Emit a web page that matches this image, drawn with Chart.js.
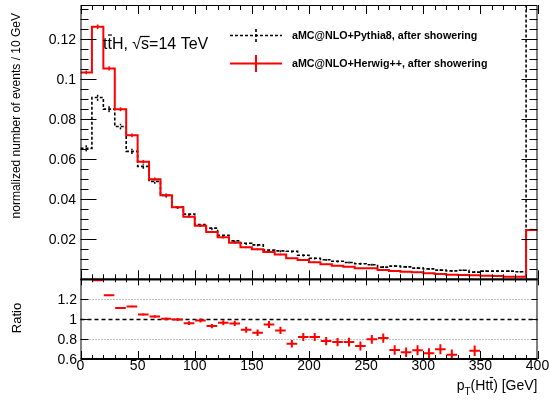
<!DOCTYPE html>
<html>
<head>
<meta charset="utf-8">
<script src="https://cdn.jsdelivr.net/npm/chart.js@4/dist/chart.umd.min.js"></script>
<style>
html,body{margin:0;padding:0;background:#fff;}
#wrap{position:relative;width:550px;height:403px;background:#fff;}
canvas{position:absolute;left:0;top:0;}
</style>
</head>
<body>
<div id="wrap">
<canvas id="cTop" width="550" height="403"></canvas>
<canvas id="cBot" width="550" height="403"></canvas>
</div>
<script>
// ---------------- data ----------------
const binLow = [0,10,20,30,40,50,60,70,80,90,100,110,120,130,140,150,160,170,180,190,
                200,210,220,230,240,250,260,270,280,290,300,310,320,330,340,350,360,370,380,390];
const binWidth = 10;
const herwig = [0.1035,0.1263,0.1055,0.0850,0.0720,0.0588,0.0501,0.0421,0.0360,0.0313,
                0.0268,0.0237,0.0210,0.0183,0.0160,0.0150,0.0137,0.0124,0.0105,0.0097,
                0.0085,0.0075,0.0068,0.0063,0.0055,0.0055,0.0047,0.0042,0.0038,0.0035,
                0.0030,0.0027,0.0023,0.0022,0.0020,0.0018,0.0017,0.0013,0.0013,0.0247];
const pythia = [0.0655,0.0909,0.0851,0.0764,0.0640,0.0565,0.0490,0.0420,0.0362,0.0326,
                0.0274,0.0256,0.0220,0.0192,0.0180,0.0172,0.0146,0.0142,0.0140,0.0120,
                0.0105,0.0098,0.0090,0.0084,0.0078,0.0073,0.0061,0.0066,0.0062,0.0056,
                0.0052,0.0046,0.0042,0.0045,0.0036,0.0041,0.0041,0.0041,0.0038,0.1600];
const herwigErr = [0.0010,0.0012,0.0011,0.0010,0.0009,0.0009,0.0008,0.0008,0.0007,0.0007,
                   0.0006,0.0006,0.0006,0.0005,0.0005,0.0005,0.0005,0.0004,0.0004,0.0004,
                   0.0004,0.0004,0.0003,0.0003,0.0003,0.0003,0.0003,0.0003,0.0003,0.0003,
                   0.0003,0.0002,0.0002,0.0002,0.0002,0.0002,0.0002,0.0002,0.0002,0.0006];
const pythiaErr = [0.0015,0.0016,0.0015,0.0014,0.0013,0.0012,0.0012,0.0011,0.0010,0.0010,
                   0.0009,0.0009,0.0008,0.0008,0.0008,0.0007,0.0007,0.0007,0.0007,0.0006,
                   0.0006,0.0006,0.0006,0.0005,0.0005,0.0005,0.0005,0.0005,0.0005,0.0005,
                   0.0005,0.0004,0.0004,0.0004,0.0004,0.0004,0.0004,0.0004,0.0004,0.0015];
const ratio = [null,1.39,1.24,1.113,1.127,1.047,1.027,1.003,0.997,0.96,
               0.987,0.93,0.963,0.957,0.893,0.863,0.947,0.887,0.753,0.82,
               0.82,0.78,0.77,0.77,0.73,0.797,0.81,0.69,0.667,0.687,
               0.657,0.697,0.643,null,0.683,null,null,null,null,null];
const ratioErr = [0,0.004,0.005,0.006,0.008,0.010,0.012,0.013,0.015,0.018,
                  0.020,0.022,0.025,0.027,0.030,0.032,0.035,0.037,0.038,0.040,
                  0.040,0.042,0.042,0.044,0.045,0.045,0.046,0.048,0.048,0.050,
                  0.050,0.050,0.052,0.052,0.052,0.055,0.055,0.055,0.055,0.010];

const xTickValues = [0,50,100,150,200,250,300,350,400];
const xTickLabels = ['0','50','100','150','200','250','300','350','400'];
const yMainTickValues = [0.02,0.04,0.06,0.08,0.1,0.12];
const yMainTickLabels = ['0.02','0.04','0.06','0.08','0.1','0.12'];
const yRatioTickValues = [0.6,0.8,1,1.2];
const yRatioTickLabels = ['0.6','0.8','1','1.2'];

const seriesNames = ['aMC@NLO+Pythia8, after showering','aMC@NLO+Herwig++, after showering'];
const yTitleMain = 'normalized number of events / 10 GeV';
const yTitleRatio = 'Ratio';

// ---------------- helpers ----------------
const FONT = '"Liberation Sans", Arial, Helvetica, sans-serif';
function stepPoints(vals){
  const pts = binLow.map((lo,i)=>({x:lo, y:vals[i]}));
  pts.push({x: binLow[binLow.length-1] + binWidth, y: vals[vals.length-1]});
  return pts;
}
function hline(ctx,x1,x2,y){ctx.beginPath();ctx.moveTo(x1,y);ctx.lineTo(x2,y);ctx.stroke();}
function vline(ctx,x,y1,y2){ctx.beginPath();ctx.moveTo(x,y1);ctx.lineTo(x,y2);ctx.stroke();}

// ---------------- top panel ----------------
const topPlugin = {
  id:'topDeco',
  afterDatasetsDraw(chart){
    const ctx = chart.ctx, xs = chart.scales.x, ys = chart.scales.y, a = chart.chartArea;
    ctx.save();
    ctx.beginPath(); ctx.rect(a.left,a.top,a.right-a.left,a.bottom-a.top); ctx.clip();
    // pythia error bars (dashed)
    ctx.strokeStyle='#000'; ctx.lineWidth=1.5; ctx.setLineDash([2,2]);
    binLow.forEach((lo,i)=>{
      const cx = xs.getPixelForValue(lo+binWidth/2);
      vline(ctx,cx,ys.getPixelForValue(pythia[i]-pythiaErr[i]),ys.getPixelForValue(pythia[i]+pythiaErr[i]));
    });
    ctx.setLineDash([]);
    ctx.strokeStyle='#ff0000'; ctx.lineWidth=1.5;
    binLow.forEach((lo,i)=>{
      const cx = xs.getPixelForValue(lo+binWidth/2);
      vline(ctx,cx,ys.getPixelForValue(herwig[i]-herwigErr[i]),ys.getPixelForValue(herwig[i]+herwigErr[i]));
    });
    ctx.restore();
  },
  afterDraw(chart){
    const ctx = chart.ctx, xs = chart.scales.x, ys = chart.scales.y, a = chart.chartArea;
    ctx.save();
    ctx.strokeStyle='#000'; ctx.fillStyle='#000'; ctx.lineWidth=1;
    // frame
    ctx.strokeRect(a.left+0.5,a.top+0.5,a.right-a.left-1,a.bottom-a.top);
    // y ticks
    for(let k=0;k<=27;k++){
      const v=k*0.005; const py=Math.round(ys.getPixelForValue(v))+0.5;
      if(py<a.top+1) continue;
      const major = (k%4===0);
      hline(ctx,a.left,a.left+(major?16:8),py);
      hline(ctx,a.right,a.right-(major?16:8),py);
    }
    // x ticks (bottom and top)
    for(let v=0;v<=400;v+=10){
      const px=Math.round(xs.getPixelForValue(v))+0.5;
      const major=(v%50===0);
      vline(ctx,px,a.bottom,a.bottom-(major?9:5));
      vline(ctx,px,a.top,a.top+(major?9:5));
    }
    // tick labels
    ctx.font='14px '+FONT; ctx.textAlign='right'; ctx.textBaseline='middle';
    yMainTickValues.forEach((v,i)=>ctx.fillText(yMainTickLabels[i],76,ys.getPixelForValue(v)+1));
    // y title
    ctx.save(); ctx.translate(17,13); ctx.rotate(-Math.PI/2);
    ctx.font='12px '+FONT; ctx.textAlign='right'; ctx.textBaseline='middle';
    ctx.fillText(yTitleMain,0,0); ctx.restore();
    // process label: t tbar H, sqrt(s)=14 TeV
    ctx.font='16px '+FONT; ctx.textAlign='left'; ctx.textBaseline='alphabetic';
    let x=103; const base=49;
    const wt=ctx.measureText('t').width;
    ctx.fillText('t',x,base); x+=wt;
    ctx.fillText('t',x,base);
    ctx.lineWidth=1.2; hline(ctx,x+0.5,x+wt,base-14); x+=wt;
    ctx.fillText('H, ',x,base); x+=ctx.measureText('H, ').width;
    ctx.fillText('\u221A',x,base);
    const mr=ctx.measureText('\u221A'); const rootTop=base-mr.actualBoundingBoxAscent+0.5;
    x+=mr.width;
    const ws=ctx.measureText('s').width;
    ctx.fillText('s',x,base);
    hline(ctx,x-1,x+ws+0.5,rootTop); x+=ws;
    ctx.fillText('=14 TeV',x,base);
    // legend
    ctx.lineWidth=1.6; ctx.strokeStyle='#000'; ctx.setLineDash([3,2]);
    hline(ctx,230,282,35.5); vline(ctx,256,29,43);
    ctx.setLineDash([]);
    ctx.strokeStyle='#ff0000'; ctx.lineWidth=2;
    hline(ctx,230,282,63.5); vline(ctx,256,55,72);
    ctx.fillStyle='#000'; ctx.font='bold 10.7px '+FONT; ctx.textBaseline='middle';
    ctx.fillText(seriesNames[0],292,36);
    ctx.fillText(seriesNames[1],292,64);
    ctx.restore();
  }
};

new Chart(document.getElementById('cTop'),{
  type:'line',
  data:{datasets:[
    {label:seriesNames[1], data:stepPoints(herwig), stepped:'before', borderColor:'#ff0000',
     borderWidth:2, pointRadius:0, fill:false, order:0},
    {label:seriesNames[0], data:stepPoints(pythia), stepped:'before', borderColor:'#000000',
     borderWidth:1.6, borderDash:[3,2], pointRadius:0, fill:false, order:1}
  ]},
  options:{
    responsive:false, animation:false, events:[], devicePixelRatio:1,
    layout:{padding:{left:80.5,right:12.5,top:5,bottom:123.7}},
    plugins:{legend:{display:false},tooltip:{enabled:false}},
    scales:{
      x:{type:'linear',min:0,max:400,display:false},
      y:{type:'linear',min:0,max:0.1372,display:false}
    }
  },
  plugins:[topPlugin]
});

// ---------------- ratio panel ----------------
const botPlugin = {
  id:'botDeco',
  beforeDatasetsDraw(chart){
    const ctx=chart.ctx, xs=chart.scales.x, ys=chart.scales.y, a=chart.chartArea;
    ctx.save();
    ctx.strokeStyle='#888'; ctx.lineWidth=1; ctx.setLineDash([1,2]);
    [0.8,1.2].forEach(v=>hline(ctx,a.left,a.right,Math.round(ys.getPixelForValue(v))+0.5));
    ctx.strokeStyle='#000'; ctx.lineWidth=1.5; ctx.setLineDash([4,3]);
    hline(ctx,a.left,a.right,Math.round(ys.getPixelForValue(1))+0.5);
    ctx.restore();
  },
  afterDatasetsDraw(chart){
    const ctx=chart.ctx, xs=chart.scales.x, ys=chart.scales.y, a=chart.chartArea;
    ctx.save();
    ctx.beginPath(); ctx.rect(a.left,a.top,a.right-a.left,a.bottom-a.top); ctx.clip();
    ctx.strokeStyle='#ff0000'; ctx.lineWidth=2;
    binLow.forEach((lo,i)=>{
      if(ratio[i]===null) return;
      const cx=xs.getPixelForValue(lo+binWidth/2);
      vline(ctx,cx,ys.getPixelForValue(ratio[i]-ratioErr[i]),ys.getPixelForValue(ratio[i]+ratioErr[i]));
    });
    ctx.restore();
  },
  afterDraw(chart){
    const ctx=chart.ctx, xs=chart.scales.x, ys=chart.scales.y, a=chart.chartArea;
    ctx.save();
    ctx.strokeStyle='#000'; ctx.fillStyle='#000'; ctx.lineWidth=1;
    vline(ctx,a.left+0.5,a.top,a.bottom);
    vline(ctx,a.right-0.5,a.top,a.bottom);
    ctx.lineWidth=2;
    hline(ctx,a.left,a.right,a.top);
    hline(ctx,a.left,a.right,a.bottom);
    ctx.lineWidth=1;
    for(let v=0;v<=400;v+=10){
      const px=Math.round(xs.getPixelForValue(v))+0.5;
      const major=(v%50===0);
      vline(ctx,px,a.top,a.top+(major?6:3));
      vline(ctx,px,a.bottom,a.bottom-(major?8:4));
    }
    [0.8,1,1.2].forEach(v=>{
      const py=Math.round(ys.getPixelForValue(v))+0.5;
      hline(ctx,a.left,a.left+8,py);
      hline(ctx,a.right,a.right-6,py);
    });
    ctx.font='14px '+FONT; ctx.textAlign='right'; ctx.textBaseline='middle';
    yRatioTickValues.forEach((v,i)=>ctx.fillText(yRatioTickLabels[i],77,ys.getPixelForValue(v)+1));
    ctx.textAlign='center'; ctx.textBaseline='alphabetic';
    xTickValues.forEach((v,i)=>ctx.fillText(xTickLabels[i],xs.getPixelForValue(v),370));
    // y title
    ctx.save(); ctx.translate(17,318); ctx.rotate(-Math.PI/2);
    ctx.font='13px '+FONT; ctx.textAlign='center'; ctx.textBaseline='middle';
    ctx.fillText(yTitleRatio,0,0); ctx.restore();
    // x title: p_T(H t tbar) [GeV]
    ctx.textAlign='left';
    const base=390;
    ctx.font='14px '+FONT;
    const wp=ctx.measureText('p').width;
    const wRest1=ctx.measureText('(Ht').width;
    const wt=ctx.measureText('t').width;
    const wRest2=ctx.measureText(') [GeV]').width;
    ctx.font='10px '+FONT;
    const wT=ctx.measureText('T').width;
    const total=wp+wT+wRest1+wt+wRest2;
    let x=a.right-total;
    ctx.font='14px '+FONT;
    ctx.fillText('p',x,base); x+=wp;
    ctx.font='10px '+FONT; ctx.fillText('T',x,base+5); x+=wT;
    ctx.font='14px '+FONT;
    ctx.fillText('(Ht',x,base); x+=wRest1;
    ctx.fillText('t',x,base); ctx.lineWidth=1.1; hline(ctx,x+0.5,x+wt,base-12.5); x+=wt;
    ctx.fillText(') [GeV]',x,base);
    ctx.restore();
  }
};

const ratioPoints = [];
binLow.forEach((lo,i)=>{ if(ratio[i]!==null) ratioPoints.push({x:lo+binWidth/2, y:ratio[i]}); });

new Chart(document.getElementById('cBot'),{
  type:'scatter',
  data:{datasets:[
    {label:'Ratio', data:ratioPoints, pointStyle:'line', pointRadius:5.3, pointBorderWidth:2,
     borderColor:'#ff0000', backgroundColor:'#ff0000', showLine:false}
  ]},
  options:{
    responsive:false, animation:false, events:[], devicePixelRatio:1,
    layout:{padding:{left:80.5,right:12.5,top:279.3,bottom:44}},
    plugins:{legend:{display:false},tooltip:{enabled:false}},
    scales:{
      x:{type:'linear',min:0,max:400,display:false},
      y:{type:'linear',min:0.6,max:1.4,display:false}
    }
  },
  plugins:[botPlugin]
});
</script>
</body>
</html>
